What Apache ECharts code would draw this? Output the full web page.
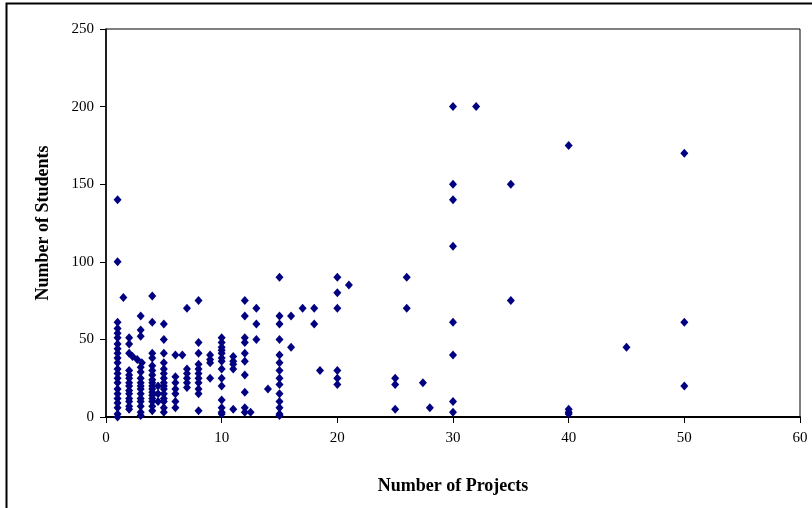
<!DOCTYPE html>
<html>
<head>
<meta charset="utf-8">
<script src="https://cdn.jsdelivr.net/npm/echarts@6/dist/echarts.min.js"></script>
<style>
html,body{margin:0;padding:0;background:#fff;}
#chart{width:812px;height:508px;}
</style>
</head>
<body>
<div id="chart"></div>
<script>
// Number of Projects (x) vs Number of Students (y)
const projects = [
  1,1,1,1,1,1,1,1,1,1,1,1,1,1,1,1,1,1,1,1,1,1,1.5,
  2,2,2,2.3,2.7,2,2,2,2,2,2,2,2,2,2,2,
  3,3,3,3.1,3,3,3,3,3,3,3,3,3,3,3,3,
  4,4,4,4,4,4,4,4,4,4,4,4,4,4,4,4,4,
  4.5,4.5,4.5,
  5,5,5,5,5,5,5,5,5,5,5,5,5,5,5,
  6,6,6,6,6,6,6,6.6,
  7,7,7,7,7,7,
  8,8,8,8,8,8,8,8,8,8,8,
  9,9,9,9,
  10,10,10,10,10,10,10,10,10,10,10,10,10,10,
  11,11,11,11,11,
  12,12,12,12,12,12,12,12,12,12,12.5,
  13,13,13,
  14,
  15,15,15,15,15,15,15,15,15,15,15,15,15,15,
  16,16,17,18,18,18.5,
  20,20,20,20,20,20,21,
  25,25,25,26,26,27.4,28,
  30,30,30,30,30,30,30,30,32,
  35,35,40,40,40,40,45,50,50,50
];
const students = [
  140,100,61,57,54,51,47,44,41,38,35,31,28,25,22,18,15,12,9,6,2,0,77,
  51,47,41,39,37,30,27,25,22,20,17,15,12,10,7,5,
  65,56,52,35,32,29,25,22,20,18,15,12,10,7,3,1,
  78,61,41,38,33,30,27,24,22,20,18,16,14,12,10,7,4,
  20,15,10,
  60,50,41,35,31,28,25,22,20,18,15,12,10,6,3,
  40,26,22,18,15,10,6,40,
  70,31,28,25,22,19,
  75,48,41,34,31,28,25,22,18,15,4,
  40,37,35,25,
  51,48,45,43,41,38,36,31,25,20,11,6,3,2,
  39,36,34,31,5,
  75,65,51,48,41,36,27,16,6,3,3,
  70,60,50,
  18,
  90,65,60,50,40,35,30,25,21,15,10,6,2,1,
  65,45,70,70,60,30,
  90,80,70,30,25,21,85,
  25,21,5,90,70,22,6,
  200,150,140,110,61,40,10,3,200,
  150,75,175,5,3,2,45,170,61,20
];
const xTicks = [0, 60, 10];   // min, max, interval
const yTicks = [0, 250, 50];

const points = projects.map((x, i) => [x, students[i]]);

const chart = echarts.init(document.getElementById('chart'));
const serif = '"Liberation Serif","Times New Roman",serif';
chart.setOption({
  animation: false,
  backgroundColor: '#fff',
  graphic: [{
    type: 'rect', left: 4, top: 1, z: 100,
    shape: { width: 900, height: 600 },
    style: { fill: 'none', stroke: '#000', lineWidth: 2 }
  }],
  grid: {
    left: 106, right: 12, top: 29, bottom: 91,
    show: true, borderColor: '#000', borderWidth: 1, backgroundColor: '#fff'
  },
  xAxis: {
    type: 'value', min: xTicks[0], max: xTicks[1], interval: xTicks[2],
    name: 'Number of Projects', nameLocation: 'middle', nameGap: 60,
    nameTextStyle: { fontFamily: serif, fontWeight: 'bold', fontSize: 18, color: '#000' },
    axisLine: { show: true, onZero: false, lineStyle: { color: '#000', width: 2 } },
    axisTick: { show: true, inside: false, length: 6, lineStyle: { color: '#000' } },
    axisLabel: { fontFamily: serif, fontSize: 15, color: '#000', margin: 14 },
    splitLine: { show: false }
  },
  yAxis: {
    type: 'value', min: yTicks[0], max: yTicks[1], interval: yTicks[2],
    name: 'Number of Students', nameLocation: 'middle', nameGap: 54,
    nameTextStyle: { fontFamily: serif, fontWeight: 'bold', fontSize: 18, color: '#000' },
    axisLine: { show: true, lineStyle: { color: '#000', width: 1.5 } },
    axisTick: { show: true, inside: false, length: 6, lineStyle: { color: '#000' } },
    axisLabel: { fontFamily: serif, fontSize: 15, color: '#000', margin: 12 },
    splitLine: { show: false }
  },
  series: [{
    type: 'scatter',
    data: points,
    symbol: 'diamond',
    symbolSize: [8, 9],
    itemStyle: { color: '#000080', opacity: 1 }
  }]
});
</script>
</body>
</html>
